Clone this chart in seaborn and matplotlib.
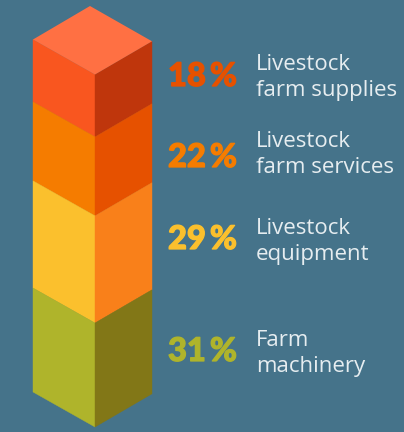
import matplotlib
matplotlib.use("Agg")
import matplotlib.pyplot as plt
import matplotlib.patheffects as pe
import seaborn as sns

# Top to bottom
categories = ["Livestock\nfarm supplies", "Livestock\nfarm services", "Livestock\nequipment", "Farm\nmachinery"]
percent_labels = ["18\u2009%", "22\u2009%", "29\u2009%", "31\u2009%"]
drawn_shares = [17.7, 22.4, 30.4, 29.5]  # block heights
left_colors = ["#F9561F", "#F57C00", "#FBC02D", "#AFB42B"]
right_colors = ["#BF360C", "#E65100", "#F9801A", "#827717"]
label_colors = ["#E65100", "#F57C00", "#FBC02D", "#AFB42B"]
top_color = "#FF7043"
bg = "#45738A"
text_color = "#E6EDF0"

sns.set_theme(style="white", rc={"figure.facecolor": bg, "axes.facecolor": bg})
fig = plt.figure(figsize=(4.04, 4.32), dpi=100)
ax = fig.add_axes([0, 0, 1, 1])
ax.set_xlim(0, 404)
ax.set_ylim(432, 0)
ax.axis("off")

X_L, X_C, X_R = 33, 95, 152
TOP_Y, PX_PER_UNIT = 39.5, 3.525
DEPTH, R_SKEW = 35, 1.8

y = TOP_Y
pct_base = [86, 167, 249, 361]
cat_base = [70, 147, 234, 346]
for share, lc, rc, pl, cat, pc, pb, cb in zip(drawn_shares, left_colors, right_colors,
                                              percent_labels, categories, label_colors,
                                              pct_base, cat_base):
    y2 = y + share * PX_PER_UNIT
    ax.fill([X_L, X_C, X_C, X_L], [y, y + DEPTH, y2 + DEPTH, y2], color=lc, lw=0.3, ec=lc)
    ax.fill([X_C, X_R, X_R, X_C], [y + DEPTH, y + R_SKEW, y2 + R_SKEW, y2 + DEPTH], color=rc, lw=0.3, ec=rc)
    ax.text(168, pb, pl, color=pc, fontsize=23.5, fontweight="black", family="Lato",
            ha="left", va="baseline",
            path_effects=[pe.withStroke(linewidth=0.9, foreground=pc)])
    a, b = cat.split("\n")
    ax.text(256, cb, a, color=text_color, fontsize=16, family="Open Sans", ha="left", va="baseline")
    ax.text(256, cb + 26, b, color=text_color, fontsize=16, family="Open Sans", ha="left", va="baseline")
    y = y2

ax.fill([X_L, 90, X_R, X_C], [TOP_Y, 6, TOP_Y + R_SKEW, TOP_Y + DEPTH], color=top_color, lw=0)

fig.savefig("out.png", dpi=100, facecolor=bg)
